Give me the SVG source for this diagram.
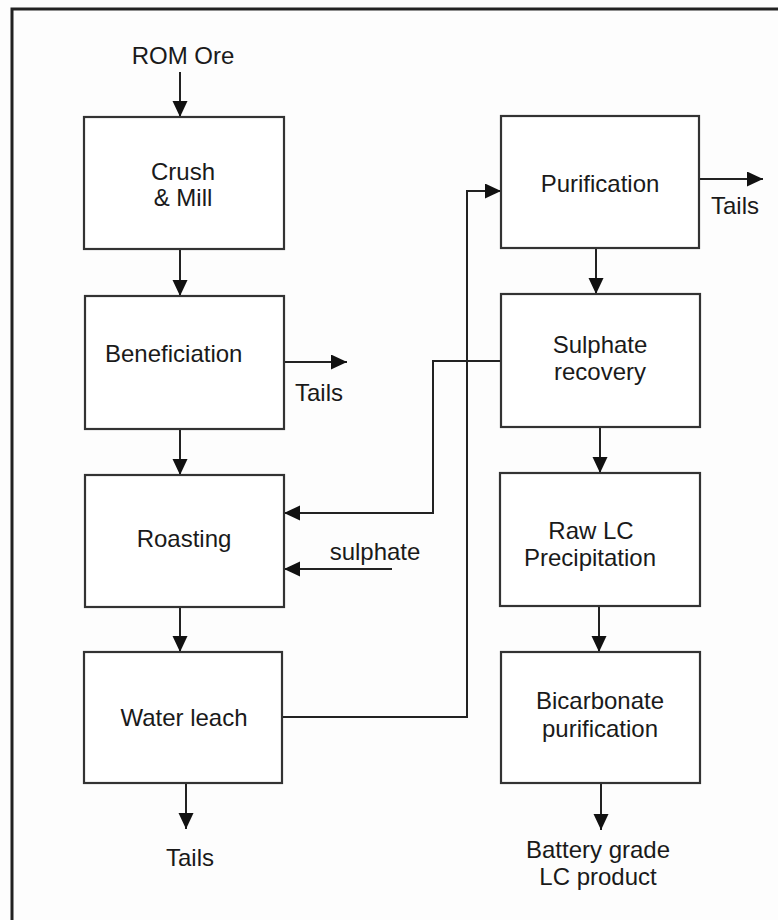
<svg xmlns="http://www.w3.org/2000/svg" width="778" height="920" viewBox="0 0 778 920">
<style>
.box{fill:#ffffff;stroke:#333333;stroke-width:2.2}
.ln{fill:none;stroke:#222222;stroke-width:2}
text{font-family:"Liberation Sans",Arial,sans-serif;font-size:24px;fill:#1a1a1a}
.c{text-anchor:middle}
</style>
<defs>
<marker id="ah" markerUnits="userSpaceOnUse" markerWidth="17" markerHeight="16" refX="16" refY="7.5" orient="auto">
<path d="M0,0 L16,7.5 L0,15 z" fill="#111111"/>
</marker>
</defs>
<rect x="0" y="0" width="778" height="920" fill="#fdfdfd"/>
<path d="M12,930 V9 H790" fill="none" stroke="#222222" stroke-width="3"/>

<g id="connectors">
<line class="ln" x1="180" y1="72" x2="180" y2="117" marker-end="url(#ah)"/>
<line class="ln" x1="180" y1="249" x2="180" y2="296" marker-end="url(#ah)"/>
<line class="ln" x1="180" y1="429" x2="180" y2="475" marker-end="url(#ah)"/>
<line class="ln" x1="180" y1="607" x2="180" y2="652" marker-end="url(#ah)"/>
<line class="ln" x1="186" y1="783" x2="186" y2="829" marker-end="url(#ah)"/>
<line class="ln" x1="284" y1="362" x2="347" y2="362" marker-end="url(#ah)"/>
<line class="ln" x1="699" y1="179" x2="763" y2="179" marker-end="url(#ah)"/>
<line class="ln" x1="596" y1="248" x2="596" y2="294" marker-end="url(#ah)"/>
<line class="ln" x1="600" y1="427" x2="600" y2="473" marker-end="url(#ah)"/>
<line class="ln" x1="599" y1="606" x2="599" y2="652" marker-end="url(#ah)"/>
<line class="ln" x1="601" y1="783" x2="601" y2="830" marker-end="url(#ah)"/>
<path class="ln" d="M283,717 H467 V191 H501" marker-end="url(#ah)"/>
<path class="ln" d="M501,361 H433 V513 H284" marker-end="url(#ah)"/>
<line class="ln" x1="392" y1="569" x2="284" y2="569" marker-end="url(#ah)"/>
</g>

<g id="rom-ore"><text class="c" x="183" y="64">ROM Ore</text></g>
<g id="crush-mill">
<rect class="box" x="84" y="117" width="200" height="132"/>
<text class="c" x="183" y="180">Crush</text>
<text class="c" x="183" y="206">&amp; Mill</text>
</g>
<g id="beneficiation">
<rect class="box" x="85" y="296" width="199" height="133"/>
<text x="105" y="362">Beneficiation</text>
</g>
<g id="tails-1"><text x="295" y="401">Tails</text></g>
<g id="roasting">
<rect class="box" x="85" y="475" width="199" height="132"/>
<text class="c" x="184" y="547">Roasting</text>
</g>
<g id="sulphate"><text class="c" x="375" y="560">sulphate</text></g>
<g id="water-leach">
<rect class="box" x="84" y="652" width="198" height="131"/>
<text class="c" x="184" y="726">Water leach</text>
</g>
<g id="tails-3"><text class="c" x="190" y="866">Tails</text></g>
<g id="purification">
<rect class="box" x="501" y="116" width="198" height="132"/>
<text class="c" x="600" y="192">Purification</text>
</g>
<g id="tails-2"><text x="711" y="214">Tails</text></g>
<g id="sulphate-recovery">
<rect class="box" x="501" y="294" width="199" height="133"/>
<text class="c" x="600" y="353">Sulphate</text>
<text class="c" x="600" y="380">recovery</text>
</g>
<g id="raw-lc">
<rect class="box" x="500" y="473" width="200" height="133"/>
<text class="c" x="591" y="539">Raw LC</text>
<text class="c" x="590" y="566">Precipitation</text>
</g>
<g id="bicarbonate">
<rect class="box" x="501" y="652" width="199" height="131"/>
<text class="c" x="600" y="709">Bicarbonate</text>
<text class="c" x="600" y="737">purification</text>
</g>
<g id="product">
<text class="c" x="598" y="858">Battery grade</text>
<text class="c" x="598" y="885">LC product</text>
</g>
</svg>
